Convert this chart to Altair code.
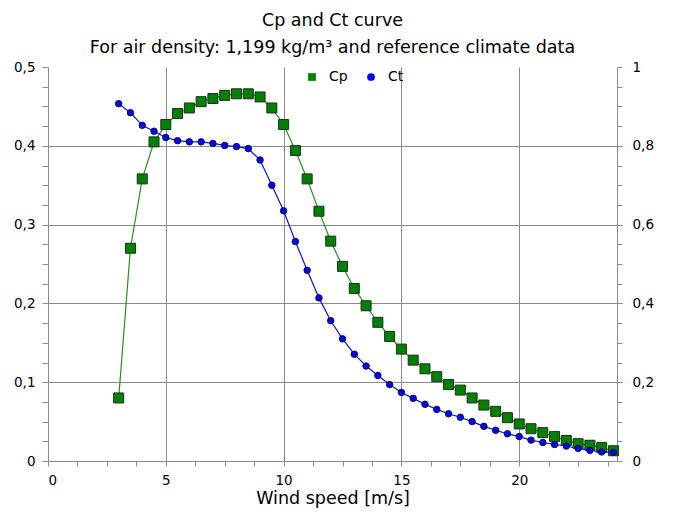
import altair as alt
import pandas as pd

speeds = [3.0, 3.5, 4.0, 4.5, 5.0, 5.5, 6.0, 6.5, 7.0, 7.5, 8.0, 8.5, 9.0, 9.5, 10.0,
          10.5, 11.0, 11.5, 12.0, 12.5, 13.0, 13.5, 14.0, 14.5, 15.0, 15.5, 16.0, 16.5,
          17.0, 17.5, 18.0, 18.5, 19.0, 19.5, 20.0, 20.5, 21.0, 21.5, 22.0, 22.5, 23.0,
          23.5, 24.0]
cp = [0.080, 0.270, 0.358, 0.405, 0.427, 0.441, 0.448, 0.456, 0.460, 0.464, 0.466,
      0.466, 0.462, 0.448, 0.427, 0.394, 0.358, 0.317, 0.279, 0.247, 0.219, 0.197,
      0.176, 0.158, 0.142, 0.128, 0.117, 0.107, 0.097, 0.090, 0.080, 0.071, 0.063,
      0.055, 0.047, 0.041, 0.036, 0.031, 0.026, 0.022, 0.020, 0.017, 0.013]
ct = [0.907, 0.884, 0.852, 0.837, 0.821, 0.813, 0.810, 0.810, 0.806, 0.801, 0.798,
      0.793, 0.764, 0.700, 0.635, 0.557, 0.484, 0.414, 0.356, 0.310, 0.271, 0.241,
      0.217, 0.194, 0.174, 0.159, 0.144, 0.131, 0.120, 0.111, 0.100, 0.088, 0.078,
      0.069, 0.062, 0.053, 0.047, 0.042, 0.038, 0.032, 0.027, 0.023, 0.022]
series_names = ["Cp", "Ct"]
series_colors = ["#008000", "#0000ff"]
line_colors = ["#2a8a2a", "#1010d0"]
title_lines = ["Cp and Ct curve", "For air density: 1,199 kg/m\u00b3 and reference climate data"]
x_title = "Wind speed [m/s]"

df = pd.DataFrame({"speed": speeds, "cp": cp, "ct": ct})
df["s_cp"] = series_names[0]
df["s_ct"] = series_names[1]

FONT = "DejaVu Sans"
LBL = 13.5
x_ticks = [i * 1.25 for i in range(20)]
left_ticks = [round(i * 0.025, 3) for i in range(21)]
right_ticks = [round(i * 0.05, 3) for i in range(21)]

x_axis = alt.Axis(
    values=x_ticks,
    labelExpr="datum.value % 5 === 0 ? format(datum.value, 'd') : ''",
    title=x_title, titleFont=FONT, titleFontSize=17.5, titleFontWeight="normal",
    titleColor="black", titlePadding=3,
    labelFont=FONT, labelFontSize=LBL, labelColor="black", labelPadding=7,
    domainColor="#8a8a8a", tickColor="#8a8a8a", tickSize=5,
    gridColor="#8a8a8a",
    gridOpacity={"condition": {"test": "datum.value % 5 === 0 && datum.value > 0", "value": 1}, "value": 0},
)
x_enc = alt.X("speed:Q", scale=alt.Scale(domain=[0, 24.15], nice=False, zero=False), axis=x_axis)

left_axis = alt.Axis(
    orient="left", values=left_ticks,
    labelExpr="abs(datum.value*10 - round(datum.value*10)) < 0.001 ? (datum.value < 0.001 ? '0' : replace(format(datum.value, '.1f'), '.', ',')) : ''",
    title=None, labelFont=FONT, labelFontSize=LBL, labelColor="black", labelPadding=7,
    domainColor="#8a8a8a", tickColor="#8a8a8a", tickSize=6,
    gridColor="#8a8a8a",
    gridOpacity={"condition": {"test": "abs(datum.value*10 - round(datum.value*10)) < 0.001 && datum.value > 0.001 && datum.value < 0.45", "value": 1}, "value": 0},
)
right_axis = alt.Axis(
    orient="right", values=right_ticks, grid=False,
    labelExpr="abs(datum.value*5 - round(datum.value*5)) < 0.001 ? (datum.value < 0.001 ? '0' : (datum.value > 0.999 ? '1' : replace(format(datum.value, '.1f'), '.', ','))) : ''",
    title=None, labelFont=FONT, labelFontSize=LBL, labelColor="black", labelPadding=10,
    domainColor="#8a8a8a", tickColor="#8a8a8a", tickSize=5,
)

y_cp = alt.Y("cp:Q", scale=alt.Scale(domain=[0, 0.5], nice=False), axis=left_axis)
y_ct = alt.Y("ct:Q", scale=alt.Scale(domain=[0, 1], nice=False), axis=right_axis)

color_scale = alt.Scale(domain=series_names, range=series_colors)
shape_scale = alt.Scale(domain=series_names, range=["square", "circle"])
legend = alt.Legend(
    title=None, orient="none", legendX=257, legendY=3, direction="horizontal",
    labelFont=FONT, labelFontSize=14, labelColor="black", symbolSize=60,
    columnPadding=16, symbolStrokeWidth=0, labelOffset=10,
)

base = alt.Chart(df)
cp_line = base.mark_line(color=line_colors[0], strokeWidth=1.2).encode(x=x_enc, y=y_cp)
cp_pts = base.mark_point(filled=True, size=100, opacity=1, stroke="#1f2f1f", strokeWidth=1).encode(
    x=x_enc, y=y_cp,
    color=alt.Color("s_cp:N", scale=color_scale, legend=legend),
    shape=alt.Shape("s_cp:N", scale=shape_scale, legend=legend),
)
ct_line = base.mark_line(color=line_colors[1], strokeWidth=1.2).encode(x=x_enc, y=y_ct)
ct_pts = base.mark_point(filled=True, size=42, opacity=1, stroke="#101030", strokeWidth=1).encode(
    x=x_enc, y=y_ct,
    color=alt.Color("s_ct:N", scale=color_scale, legend=legend),
    shape=alt.Shape("s_ct:N", scale=shape_scale, legend=legend),
)

cp_layer = alt.layer(cp_line, cp_pts)
ct_layer = alt.layer(ct_line, ct_pts)

chart = alt.layer(cp_layer, ct_layer).resolve_scale(y="independent").properties(
    width=569, height=394,
    padding={"left": 5, "top": 3, "right": 5, "bottom": 5},
    title=alt.TitleParams(text=title_lines, font=FONT, fontSize=17.5, fontWeight="normal",
                          color="black", anchor="middle", lineHeight=27, offset=4),
).configure_view(stroke=None)

chart.save("out.html", embed_options={"renderer": "svg", "actions": False})
